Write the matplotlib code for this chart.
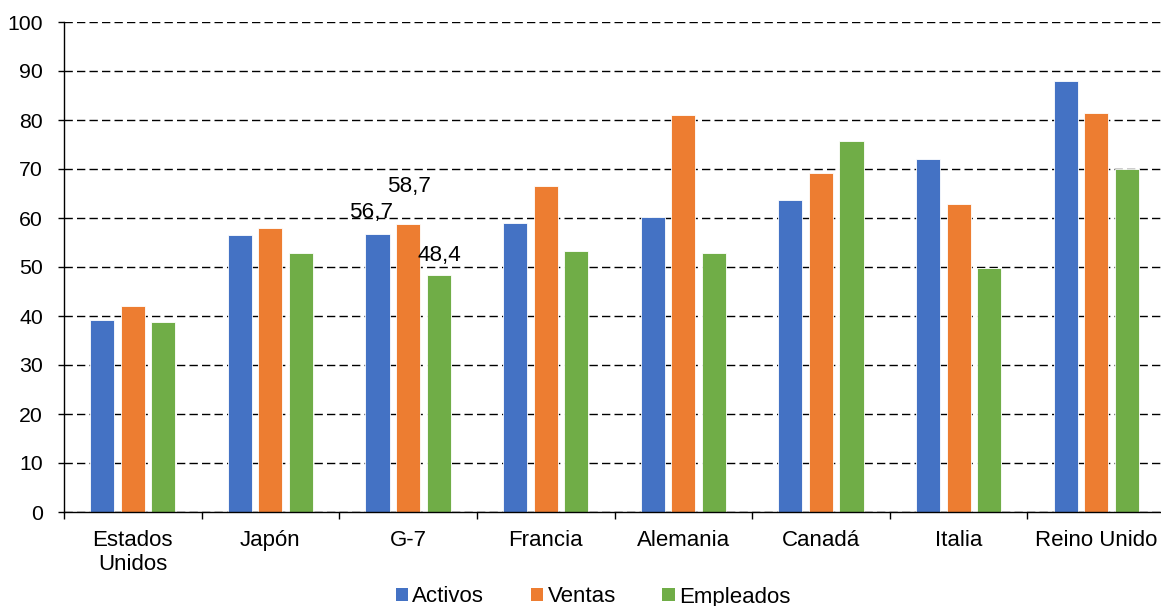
import matplotlib
matplotlib.use("Agg")
import matplotlib.pyplot as plt
from matplotlib.patches import Patch
import numpy as np

plt.rcParams["font.family"] = ["Liberation Sans", "DejaVu Sans"]

# Shares per country (%) for the three indicators
categories = ["Estados\nUnidos", "Japón", "G-7", "Francia", "Alemania",
              "Canadá", "Italia", "Reino Unido"]
activos = [39.1, 56.5, 56.7, 59.0, 60.2, 63.7, 72.0, 87.9]
ventas = [42.1, 58.0, 58.7, 66.6, 81.0, 69.1, 62.9, 81.5]
empleados = [38.8, 52.8, 48.4, 53.3, 52.9, 75.7, 49.8, 70.0]
series_names = ["Activos", "Ventas", "Empleados"]
y_ticks = list(range(0, 101, 10))
labelled_category = "G-7"

series_values = [activos, ventas, empleados]
colors = ["#4472C4", "#ED7D31", "#70AD47"]

W, H = 1161, 606
fig = plt.figure(figsize=(W / 100, H / 100), dpi=100)
ax = fig.add_axes([64 / W, 1 - 512 / H, 1101 / W, 490 / H])

x = np.arange(len(categories))
pitch = 0.222
bar_w = 0.175
offsets = [-pitch, 0.0, pitch]
containers = []
for vals, off, col, name in zip(series_values, offsets, colors, series_names):
    bc = ax.bar(x + off, vals, width=bar_w, color=col, edgecolor="white",
                linewidth=0.6, label=name, zorder=2)
    containers.append(bc)

# value labels on the G-7 group
gi = categories.index(labelled_category)
label_offsets = [(-4.7, 11.3), (0.4, 23.0), (0.9, 10.0)]
for bc, vals, (dx, dy) in zip(containers, series_values, label_offsets):
    rect = bc[gi]
    txt = f"{vals[gi]:.1f}".replace(".", ",")
    ax.annotate(txt, (rect.get_x() + rect.get_width() / 2, rect.get_height()),
                xytext=(dx, dy), textcoords="offset points",
                ha="center", va="baseline", fontsize=16.2, color="black")

ax.set_xlim(-0.5, len(categories) - 0.5)
ax.set_ylim(0, 100)
ax.set_yticks(y_ticks)
ax.yaxis.grid(True, color="black", linewidth=1.0, linestyle=(0, (6, 3)))
ax.set_axisbelow(True)

for s in ("top", "right"):
    ax.spines[s].set_visible(False)
for s in ("left", "bottom"):
    ax.spines[s].set_color("black")
    ax.spines[s].set_linewidth(1.0)

ax.set_xticks(x)
ax.set_xticklabels(categories, fontsize=16, linespacing=1.17)
ax.set_xticks(np.arange(-0.5, len(categories) + 0.5, 1.0), minor=True)
ax.tick_params(axis="x", which="major", length=0, pad=13)
ax.tick_params(axis="x", which="minor", length=5, width=1.0, color="black")
ax.tick_params(axis="y", length=4.3, width=1.0, color="black", pad=10.8,
               labelsize=15.3)

handles = [Patch(facecolor=c, edgecolor="none", label=n)
           for c, n in zip(colors, series_names)]
fig.legend(handles=handles, loc="center", ncol=3, frameon=False,
           bbox_to_anchor=(593 / W, 1 - 597 / H), fontsize=16,
           handlelength=0.55, handleheight=0.55, handletextpad=0.2,
           columnspacing=2.1, borderpad=0, borderaxespad=0)

fig.savefig("out.png", dpi=100)
